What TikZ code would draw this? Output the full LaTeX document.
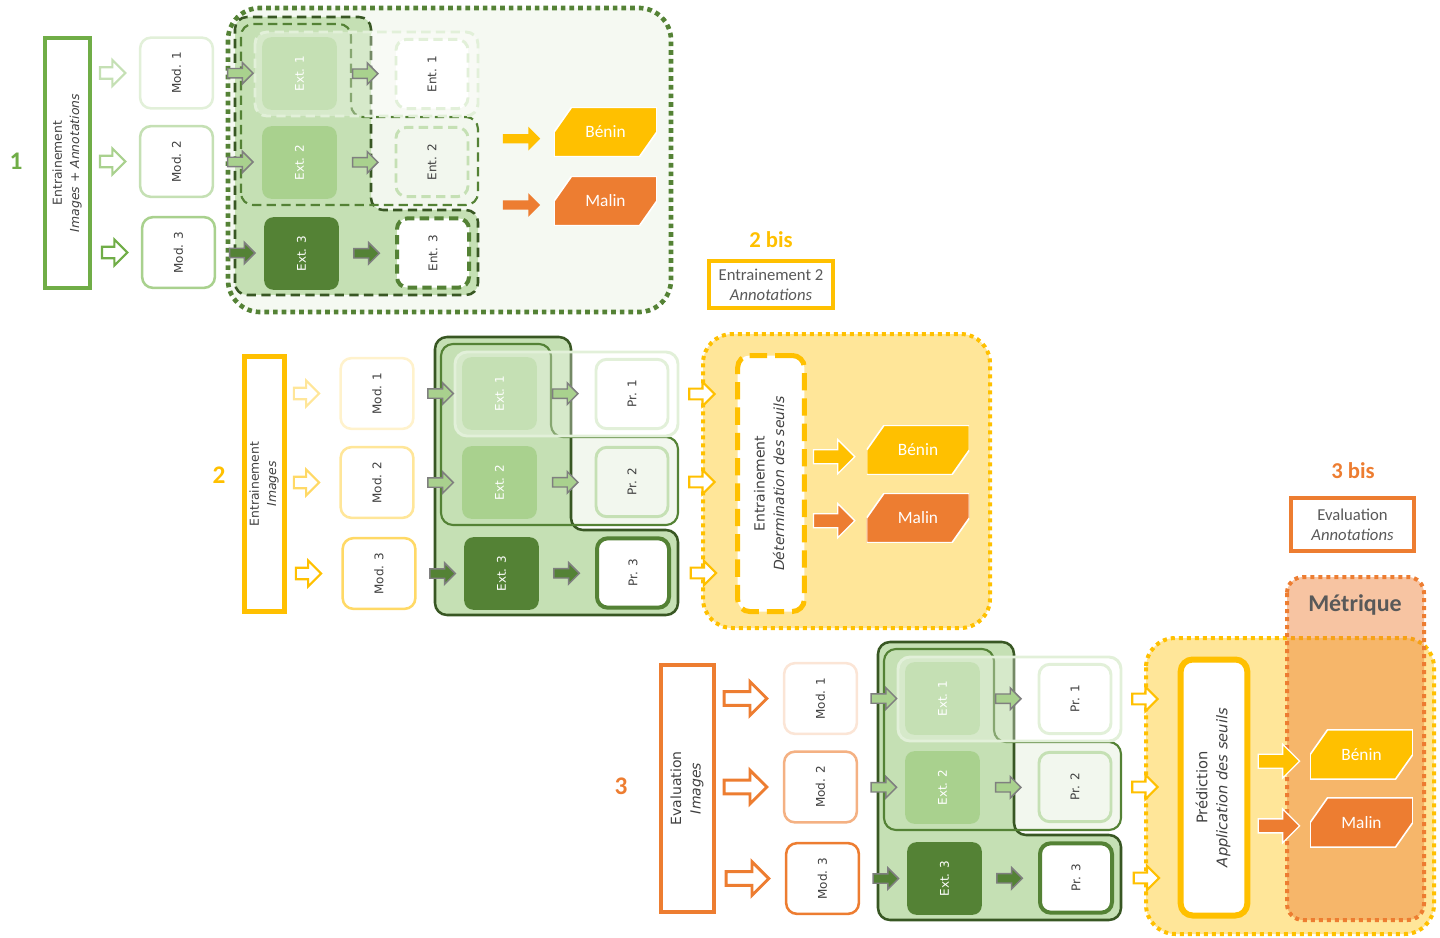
\documentclass[tikz,border=0pt]{standalone}
\usepackage{fontspec}
\setmainfont{Carlito}
\newfontfamily\vfont{DejaVu Sans}
\usepackage{graphicx}
\usepackage{tikz}
\usetikzlibrary{positioning,calc,shapes.arrows}
\definecolor{grn}{HTML}{70AD47}
\definecolor{grndark}{HTML}{548235}
\definecolor{grndeep}{HTML}{385723}
\definecolor{grnmid}{HTML}{A9D18E}
\definecolor{grnlight}{HTML}{C5E0B4}
\definecolor{grnpale}{HTML}{E2F0D9}
\definecolor{grnwash}{HTML}{F2F7EE}
\definecolor{grnzone}{HTML}{F5F9F2}
\definecolor{ylw}{HTML}{FFC000}
\definecolor{ylwmid}{HTML}{FFD966}
\definecolor{ylwlight}{HTML}{FFE699}
\definecolor{ylwpale}{HTML}{FFF2CC}
\definecolor{org}{HTML}{ED7D31}
\definecolor{orgmid}{HTML}{F4B183}
\definecolor{orgpale}{HTML}{FBE5D6}
\definecolor{txt}{HTML}{404040}
\definecolor{txtsoft}{HTML}{595959}
\definecolor{arrgray}{HTML}{7F7F7F}
\newcommand{\vlab}[1]{\rotatebox{90}{#1}}
\newcommand{\vtwo}[2]{\rotatebox{90}{\begin{tabular}{@{}c@{}}#1\\[2pt]\textit{#2}\end{tabular}}}
\newcommand{\greenblock}[3]{%
  % nested groups, behind the boxes
  \fill[grnwash, rounded corners=9pt] (441,525) -- (441,344) -- (551,344) -- (551,437) -- (678,437) -- (678,525) -- cycle;
  \filldraw[fill=grnlight, draw=grndeep, line width=1.9pt, #3, rounded corners=9pt]
    (435,615) -- (435,337) -- (571,337) -- (571,530) -- (678,530) -- (678,615) -- cycle;
  \draw[grndark, line width=1.6pt, #3, rounded corners=9pt]
    (441,525) -- (441,344) -- (551,344) -- (551,437) -- (678,437) -- (678,525) -- cycle;
  \filldraw[fill=white, fill opacity=.3, draw=grnpale, line width=2.2pt, #3, rounded corners=9pt] (455,352) rectangle (678,436);
  % extractors and outputs
  \node[extbox=grnlight] (#1ext1) at (499.5,393.5) {\vlab{Ext. 1}};
  \node[extbox=grnmid] (#1ext2) at (499.5,482.5) {\vlab{Ext. 2}};
  \node[extbox=grndark] (#1ext3) at (501.5,573.5) {\vlab{Ext. 3}};
  \node[prbox=grnpale, #3] (#1pr1) at (632,394) {\vlab{#2. 1}};
  \node[prbox=grnlight, fill=grnwash, #3] (#1pr2) at (632,482) {\vlab{#2. 2}};
  \node[prbox=grndark, line width=3pt, #3] (#1pr3) at (633,573) {\vlab{#2. 3}};
  \foreach \r/\c in {1/grnmid,2/grnmid,3/grndark} {
    \node[grayarrow=\c] (#1ain\r) at ($(#1mod\r.east)!0.5!(#1ext\r.west)$) {};
    \node[grayarrow=\c] (#1aex\r) at ($(#1ext\r.east)!0.45!(#1pr\r.west)$) {};
  }
}
\tikzset{
  numlab/.style={font=\bfseries\fontsize{19}{21}\selectfont},
  bislab/.style={font=\bfseries\fontsize{17}{19}\selectfont},
  inbox/.style={draw=#1, line width=3pt, fill=white, inner sep=0pt, text=txt, font=\vfont\fontsize{9.3}{11}\selectfont},
  modbox/.style={draw=#1, line width=1.9pt, fill=white, rounded corners=8pt, minimum width=54.5pt, minimum height=53pt, inner sep=0pt, text=txt, font=\vfont\fontsize{9}{10}\selectfont},
  extbox/.style={fill=#1, rounded corners=7pt, minimum width=56pt, minimum height=54.5pt, inner sep=0pt, text=white, font=\vfont\fontsize{9}{10}\selectfont},
  prbox/.style={draw=#1, line width=2.2pt, fill=white, rounded corners=8pt, minimum width=54pt, minimum height=52pt, inner sep=0pt, text=txt, font=\vfont\fontsize{9}{10}\selectfont},
  seuilbox/.style={draw=ylw, line width=3.75pt, fill=white, rounded corners=9pt, minimum width=50pt, minimum height=192pt, inner sep=0pt, text=txt, font=\vfont\fontsize{10.5}{12.5}\selectfont},
  notebox/.style={draw=#1, line width=3pt, fill=white, inner sep=0pt, text=txtsoft, align=center, font=\fontsize{12.5}{15}\selectfont},
  tagbox/.style={minimum width=77pt, minimum height=37pt, inner sep=0pt, text=white, font=\fontsize{13}{15}\selectfont,
    path picture={\fill[#1, draw=white, line width=1.2pt]
      ([xshift=13pt]path picture bounding box.north west) -- (path picture bounding box.north east)
      -- ([yshift=-18.5pt]path picture bounding box.north east) -- ([xshift=-13pt]path picture bounding box.south east)
      -- (path picture bounding box.south west) -- ([yshift=18.5pt]path picture bounding box.south west) -- cycle;}},
  inarrow/.style={single arrow, draw=#1, fill=white, line width=1.6pt, inner sep=0pt, text height=7pt, text depth=0pt, single arrow head extend=5.5pt, minimum height=19pt},
  bigarrow/.style={single arrow, draw=#1, fill=white, line width=2.2pt, inner sep=0pt, text height=8pt, text depth=0pt, single arrow head extend=7.5pt, minimum height=32pt},
  grayarrow/.style={single arrow, draw=arrgray, fill=#1, line width=1.1pt, inner sep=0pt, text height=6pt, text depth=0pt, single arrow head extend=4.5pt, minimum height=19pt},
  outarrow/.style={single arrow, draw=ylw, fill=white, line width=1.6pt, inner sep=0pt, text height=6.5pt, text depth=0pt, single arrow head extend=5pt, minimum height=19pt},
  tagarrow/.style={single arrow, draw=white, fill=#1, line width=1pt, inner sep=0pt, text height=9.5pt, text depth=0pt, single arrow head extend=7.5pt, minimum height=31pt},
  flatarrow/.style={single arrow, fill=#1, inner sep=0pt, text height=6.5pt, text depth=0pt, single arrow head extend=5.5pt, minimum height=28pt},
}
\begin{document}
\begin{tikzpicture}[x=0.75pt,y=-0.75pt]
\useasboundingbox (0,0) rectangle (1440,938);

% stage 1: training on images and annotations
\draw[grndark, fill=grnzone, line width=3.5pt, dash pattern=on 3.5pt off 3pt, rounded corners=24pt] (228,8) rectangle (671,312);
\node[numlab, text=grn] (n1) at (16,161) {1};
\node[inbox=grn, minimum width=34pt, minimum height=187pt] (s1in) at (67.5,163) {\vtwo{Entrainement}{Images + Annotations}};
\foreach \r/\x/\y/\c in {1/176.5/73/grnpale, 2/176.5/161.5/grnlight, 3/178.5/252.5/grnmid}
  \node[modbox=\c] (s1mod\r) at (\x,\y) {\vlab{Mod. \r}};
\foreach \r/\c in {1/grnlight, 2/grnmid, 3/grn}
  \node[inarrow=\c, left=9pt of s1mod\r] (s1ain\r) {};
\begin{scope}[shift={(-200,-320)}]
  \greenblock{s1}{Ent}{dash pattern=on 7pt off 4pt}
\end{scope}
\node[tagbox=ylw] (s1benin) at (605.5,132) {Bénin};
\node[tagbox=org] (s1malin) at (605.5,201) {Malin};
\node[flatarrow=ylw, left=10pt of s1benin, yshift=-5pt] (s1ab) {};
\node[flatarrow=org, left=10pt of s1malin, yshift=-3pt] (s1am) {};

% stage 2 bis
\node[bislab, text=ylw] (b2) at (771,240) {2 bis};
\node[notebox=ylw, minimum width=93pt, minimum height=35pt] (b2box) at (771,284.5) {Entrainement 2\\\textit{Annotations}};

% stage 2: training on images, thresholds
\node[numlab, text=ylw] (n2) at (219,475) {2};
\node[inbox=ylw, line width=3.75pt, minimum width=30pt, minimum height=191pt] (s2in) at (264.5,484) {\vtwo{Entrainement}{Images}};
\foreach \r/\x/\y/\c in {1/377/393.5/ylwpale, 2/377/482.5/ylwlight, 3/379/573.5/ylwmid}
  \node[modbox=\c] (s2mod\r) at (\x,\y) {\vlab{Mod. \r}};
\foreach \r/\c in {1/ylwlight, 2/ylwmid, 3/ylw}
  \node[inarrow=\c, left=14pt of s2mod\r] (s2ain\r) {};
\greenblock{s2}{Pr}{solid}
\draw[ylw, fill=ylwlight, line width=3pt, dash pattern=on 3pt off 3pt, rounded corners=22pt] (703,334) rectangle (990,628);
\foreach \r in {1,2,3}
  \node[outarrow, right=14pt of s2pr\r] (s2aout\r) {};
\node[seuilbox, dash pattern=on 13pt off 6pt] (s2seuil) at (771,483.5) {\vtwo{Entrainement}{Détermination des seuils}};
\node[tagbox=ylw] (s2benin) at (918,450) {Bénin};
\node[tagbox=org] (s2malin) at (918,518) {Malin};
\node[tagarrow=ylw, left=8pt of s2benin, yshift=-5pt] (s2ab) {};
\node[tagarrow=org, left=8pt of s2malin, yshift=-2pt] (s2am) {};

% stage 3 bis
\node[bislab, text=org] (b3) at (1353,471) {3 bis};
\node[notebox=org, minimum width=92pt, minimum height=40pt] (b3box) at (1352.5,524.5) {Evaluation\\\textit{Annotations}};

% stage 3: evaluation on images
\node[numlab, text=org] (n3) at (621,786) {3};
\node[inbox=org, minimum width=40pt, minimum height=185pt, font=\vfont\fontsize{10.5}{12.5}\selectfont] (s3in) at (687.5,788.5) {\vtwo{Evaluation}{Images}};
\foreach \r/\x/\y/\c in {1/820.5/698.5/orgpale, 2/820.5/787/orgmid, 3/822.5/878.5/org}
  \node[modbox=\c] (s3mod\r) at (\x,\y) {\vlab{Mod. \r}};
\foreach \r in {1,2,3}
  \node[bigarrow=org, left=10.5pt of s3mod\r] (s3ain\r) {};
\begin{scope}[shift={(443,305)}]
  \greenblock{s3}{Pr}{solid}
\end{scope}
\draw[ylw, fill=ylwlight, line width=3pt, dash pattern=on 3pt off 3pt, rounded corners=22pt] (1146,638) rectangle (1434,934);
\draw[org, fill=org, fill opacity=.45, line width=3pt, dash pattern=on 3pt off 3pt, rounded corners=12pt] (1287,577) rectangle (1424,920);
\node[font=\bfseries\fontsize{18}{20}\selectfont, text=txtsoft] (metr) at (1355,605) {Métrique};
\foreach \r in {1,2,3}
  \node[outarrow, right=14pt of s3pr\r] (s3aout\r) {};
\node[seuilbox, line width=4.5pt, font=\vfont\fontsize{11}{13}\selectfont] (s3seuil) at (1214,787.5) {\vtwo{Prédiction}{Application des seuils}};
\node[tagbox=ylw] (s3benin) at (1361.5,754.5) {Bénin};
\node[tagbox=org] (s3malin) at (1361.5,822.5) {Malin};
\node[tagarrow=ylw, left=7pt of s3benin, yshift=-5pt] (s3ab) {};
\node[tagarrow=org, left=7pt of s3malin, yshift=-2.5pt] (s3am) {};
\end{tikzpicture}
\end{document}
